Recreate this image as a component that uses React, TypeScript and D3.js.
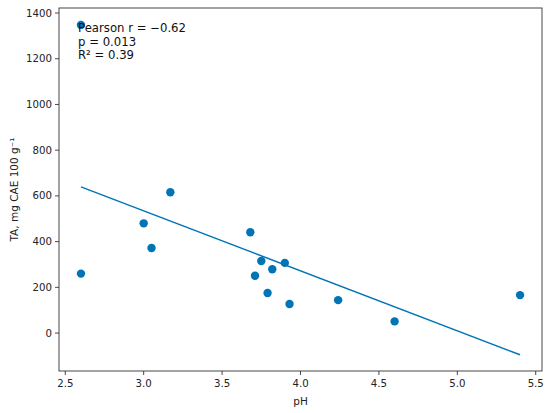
import React from 'react';
import * as d3 from 'd3';

const phValues = [2.6, 2.6, 3.0, 3.05, 3.17, 3.68, 3.71, 3.75, 3.79, 3.82, 3.9, 3.93, 4.24, 4.6, 5.4];
const taValues = [1348, 260, 480, 372, 616, 441, 251, 315, 175, 279, 307, 127, 144, 51, 166];
const xTicks = [2.5, 3.0, 3.5, 4.0, 4.5, 5.0, 5.5];
const yTicks = [0, 200, 400, 600, 800, 1000, 1200, 1400];
const statLines = ['Pearson r = \u22120.62', 'p = 0.013', 'R\u00b2 = 0.39'];

const width = 550;
const height = 413;
const margin = { top: 8, right: 8, bottom: 42, left: 59 };
const blue = '#0074B5';
const font = 'DejaVu Sans, sans-serif';

const App: React.FC = () => {
  const x = d3.scaleLinear().domain([2.46, 5.54]).range([margin.left, width - margin.right]);
  const y = d3.scaleLinear().domain([-166, 1422]).range([height - margin.bottom, margin.top]);

  // least squares fit drawn over the data range
  const mx = d3.mean(phValues) as number;
  const my = d3.mean(taValues) as number;
  let sxy = 0;
  let sxx = 0;
  phValues.forEach((v, i) => {
    sxy += (v - mx) * (taValues[i] - my);
    sxx += (v - mx) * (v - mx);
  });
  const slope = sxy / sxx;
  const intercept = my - slope * mx;
  const [xMin, xMax] = d3.extent(phValues) as [number, number];
  const fitLine = d3.line<number>().x((d) => x(d)).y((d) => y(intercept + slope * d));

  const plotBottom = height - margin.bottom;

  return (
    <svg width={width} height={height} style={{ position: 'absolute', left: 0, top: 0 }} fontFamily={font}>
      <rect x={0} y={0} width={width} height={height} fill="white" />
      <path d={fitLine([xMin, xMax]) || ''} fill="none" stroke={blue} strokeWidth={1.5} />
      {phValues.map((v, i) => (
        <circle key={i} cx={x(v)} cy={y(taValues[i])} r={4.2} fill={blue} />
      ))}
      <rect
        x={margin.left}
        y={margin.top}
        width={width - margin.left - margin.right}
        height={plotBottom - margin.top}
        fill="none"
        stroke="#333"
        strokeWidth={0.9}
      />
      {xTicks.map((t) => (
        <g key={t} transform={`translate(${x(t)},${plotBottom})`}>
          <line y2={4} stroke="#333" strokeWidth={0.9} />
          <text y={16} textAnchor="middle" fontSize={10.2} fill="#222">
            {t.toFixed(1)}
          </text>
        </g>
      ))}
      {yTicks.map((t) => (
        <g key={t} transform={`translate(${margin.left},${y(t)})`}>
          <line x2={-4} stroke="#333" strokeWidth={0.9} />
          <text x={-7} dy="0.35em" textAnchor="end" fontSize={10.2} fill="#222">
            {t}
          </text>
        </g>
      ))}
      <text x={x(4.0)} y={405} textAnchor="middle" fontSize={10.5} fill="#222">
        pH
      </text>
      <text
        transform={`translate(18,${(margin.top + plotBottom) / 2}) rotate(-90)`}
        textAnchor="middle"
        fontSize={10.5}
        fill="#222"
      >
        TA, mg CAE 100 g⁻¹
      </text>
      {statLines.map((s, i) => (
        <text key={s} x={78} y={32 + i * 13.5} fontSize={11.7} fill="#111">
          {s}
        </text>
      ))}
    </svg>
  );
};

export default App;
